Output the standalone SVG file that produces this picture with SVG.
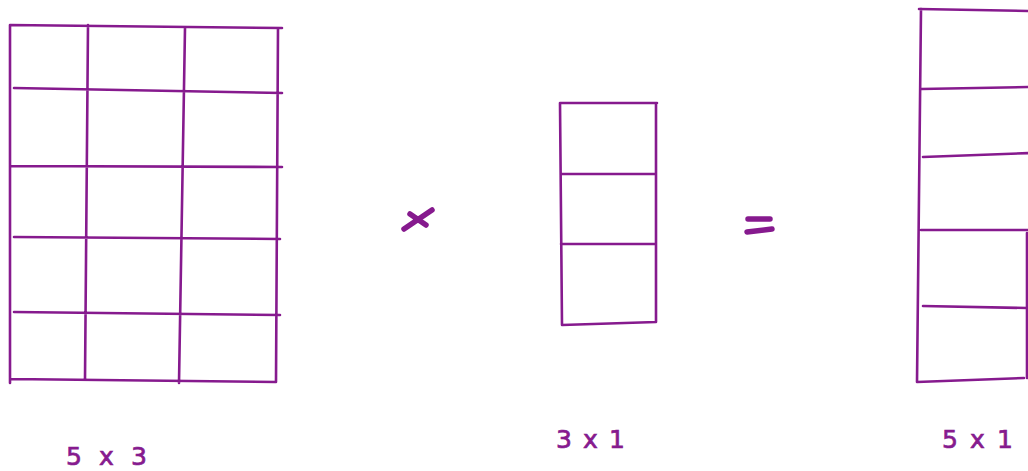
<svg xmlns="http://www.w3.org/2000/svg" width="1028" height="471" viewBox="0 0 1028 471">
<style>
.g{fill:none;stroke:#861a8e;stroke-width:2.6;stroke-linecap:round;stroke-linejoin:round}
.op{fill:none;stroke:#861a8e;stroke-width:5.5;stroke-linecap:round}
.lbl{font-family:"DejaVu Sans","Liberation Sans",sans-serif;font-size:25px;fill:#861a8e;stroke:#861a8e;stroke-width:0.7}
</style>
<rect width="1028" height="471" fill="#ffffff"/>
<g id="matrix-5x3">
<path class="g" d="M10,25 L282,28 M10,25 L10,383 M14,88 L282,93 M10,166 L282,167 M14,237 L280,239 M14,312 L280,315 M10,379 L276,382 M88,25 L85,379 M185,28 L179,383 M278,28 L276,382"/>
<text class="lbl" x="66" y="465" textLength="81" lengthAdjust="spacing">5 x 3</text>
</g>
<g id="times-sign">
<path class="op" d="M404,229 L432,210 M410,214 L426,225"/>
</g>
<g id="matrix-3x1">
<path class="g" d="M560,103 L657,103 M560,103 L562,325 M656,103 L656,322 M561,174 L656,174 M561,244 L656,244 M562,325 L656,322"/>
<text class="lbl" x="556" y="448" textLength="69" lengthAdjust="spacing">3 x 1</text>
</g>
<g id="equals-sign">
<path class="op" d="M748,219 L770,219 M747,232 L772,229"/>
</g>
<g id="matrix-5x1">
<path class="g" d="M919,9 L1030,11 M921,9 L917,382 M921,89 L1030,87 M923,157 L1030,153 M921,230 L1030,230 M923,306 L1027,308 M917,382 L1024,378 M1027,233 L1027,378"/>
<text class="lbl" x="942" y="448" textLength="71" lengthAdjust="spacing">5 x 1</text>
</g>
<g id="connectors"></g>
</svg>
